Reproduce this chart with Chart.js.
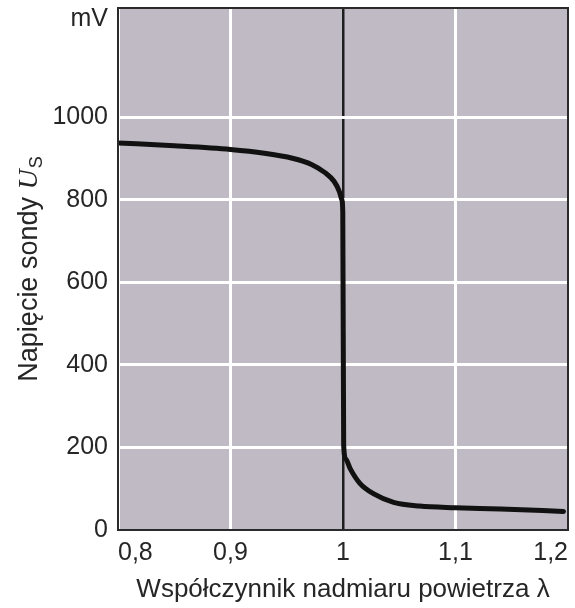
<!DOCTYPE html>
<html>
<head>
<meta charset="utf-8">
<script src="https://cdn.jsdelivr.net/npm/chart.js@4.4.1/dist/chart.umd.min.js"></script>
<style>
  html, body { margin: 0; padding: 0; background: #ffffff; }
  #wrap { width: 575px; height: 608px; }
</style>
</head>
<body>
<div id="wrap"><canvas id="c" width="575" height="608"></canvas></div>
<script>
// Lambda-probe characteristic: probe voltage vs. excess-air ratio
const lambdaValues = [0.80, 0.85, 0.90, 0.93, 0.955, 0.972, 0.984, 0.992, 0.9965, 0.9990, 0.9998,
                      1.0006, 1.0025, 1.0065, 1.015, 1.027, 1.045, 1.068, 1.10, 1.14, 1.196];
const voltageValues = [938, 931, 922, 913, 901, 886, 866, 845, 822, 800, 770,
                       205, 172, 148, 113, 88, 67, 58, 54, 51, 45];

const xTicks = [0.8, 0.9, 1.0, 1.1, 1.2];
const xTickLabels = ['0,8', '0,9', '1', '1,1', '1,2'];
const yTicks = [0, 200, 400, 600, 800, 1000];
const yUnitLabel = 'mV';
const yUnitAt = 1238;
const xTitle = 'Współczynnik nadmiaru powietrza λ';
const yTitleText = 'Napięcie sondy ';
const yTitleSymbol = 'U';
const yTitleIndex = 'S';

const points = lambdaValues.map((x, i) => ({ x: x, y: voltageValues[i] }));
const TEXT = '#262626';
const SANS = '"Liberation Sans", Arial, sans-serif';

const plotBackground = {
  id: 'plotBackground',
  beforeDraw(chart) {
    const { ctx, chartArea: a } = chart;
    ctx.save();
    ctx.fillStyle = '#bfbac3';
    ctx.fillRect(a.left, a.top, a.right - a.left, a.bottom - a.top);
    ctx.restore();
  }
};

const plotFrame = {
  id: 'plotFrame',
  afterDatasetsDraw(chart) {
    const { ctx, chartArea: a } = chart;
    ctx.save();
    ctx.strokeStyle = '#2a2a2a';
    ctx.lineWidth = 2;
    ctx.strokeRect(a.left, a.top, a.right - a.left, a.bottom - a.top);
    ctx.restore();
  }
};

// Rotated y-axis title with italic symbol and subscript
const yAxisTitle = {
  id: 'yAxisTitle',
  afterDraw(chart) {
    const { ctx, chartArea: a } = chart;
    const fMain = '27px ' + SANS;
    const fSym = 'italic 28px "Liberation Serif", "DejaVu Serif", serif';
    const fSub = '18px ' + SANS;
    ctx.save();
    ctx.fillStyle = TEXT;
    ctx.textBaseline = 'alphabetic';
    ctx.font = fMain; const w1 = ctx.measureText(yTitleText).width;
    ctx.font = fSym; const w2 = ctx.measureText(yTitleSymbol).width;
    ctx.font = fSub; const w3 = ctx.measureText(yTitleIndex).width;
    const total = w1 + w2 + 1 + w3;
    ctx.translate(28, (a.top + a.bottom) / 2);
    ctx.rotate(-Math.PI / 2);
    let x = -total / 2;
    const base = 9;
    ctx.font = fMain; ctx.fillText(yTitleText, x, base); x += w1;
    ctx.font = fSym; ctx.fillText(yTitleSymbol, x, base); x += w2 + 1;
    ctx.font = fSub; ctx.fillText(yTitleIndex, x, base + 5);
    ctx.restore();
  }
};

new Chart(document.getElementById('c'), {
  type: 'line',
  data: {
    datasets: [{
      data: points,
      borderColor: '#111111',
      borderWidth: 5,
      pointRadius: 0,
      fill: false,
      cubicInterpolationMode: 'monotone',
      borderCapStyle: 'round',
      borderJoinStyle: 'round'
    }]
  },
  options: {
    responsive: false,
    animation: false,
    devicePixelRatio: 1,
    layout: { padding: { left: 0, right: 7, top: 8, bottom: 0 } },
    plugins: { legend: { display: false }, tooltip: { enabled: false } },
    scales: {
      x: {
        type: 'linear',
        min: 0.8,
        max: 1.2,
        afterBuildTicks(scale) { scale.ticks = xTicks.map(v => ({ value: v })); },
        afterFit(scale) {
          scale.height = 78;
          scale.paddingLeft = 0; scale.paddingRight = 0;
          scale.paddingTop = 0; scale.paddingBottom = 0;
        },
        border: { display: false },
        grid: {
          drawTicks: false,
          color: c => (c.tick && c.tick.value === 1) ? '#1e1e1e' : '#ffffff',
          lineWidth: c => (c.tick && c.tick.value === 1) ? 2.5 : 3
        },
        ticks: {
          padding: 8,
          align: 'inner',
          maxRotation: 0,
          autoSkip: false,
          color: TEXT,
          font: { family: SANS, size: 25 },
          callback: (v, i) => xTickLabels[i]
        },
        title: {
          display: true,
          text: xTitle,
          color: TEXT,
          font: { family: SANS, size: 26 },
          padding: { top: 0, bottom: 3 }
        }
      },
      y: {
        type: 'linear',
        min: 0,
        max: 1265,
        afterBuildTicks(scale) {
          scale.ticks = yTicks.concat([yUnitAt]).map(v => ({ value: v }));
        },
        afterFit(scale) {
          scale.width = 118;
          scale.paddingTop = 0; scale.paddingBottom = 0;
          scale.paddingLeft = 0; scale.paddingRight = 0;
        },
        border: { display: false },
        grid: {
          drawTicks: false,
          color: c => (c.tick && c.tick.value === yUnitAt) ? 'rgba(0,0,0,0)' : '#ffffff',
          lineWidth: 3
        },
        ticks: {
          padding: 10,
          autoSkip: false,
          color: TEXT,
          font: { family: SANS, size: 25 },
          callback: v => (v === yUnitAt ? yUnitLabel : String(v))
        }
      }
    }
  },
  plugins: [plotBackground, plotFrame, yAxisTitle]
});
</script>
</body>
</html>
